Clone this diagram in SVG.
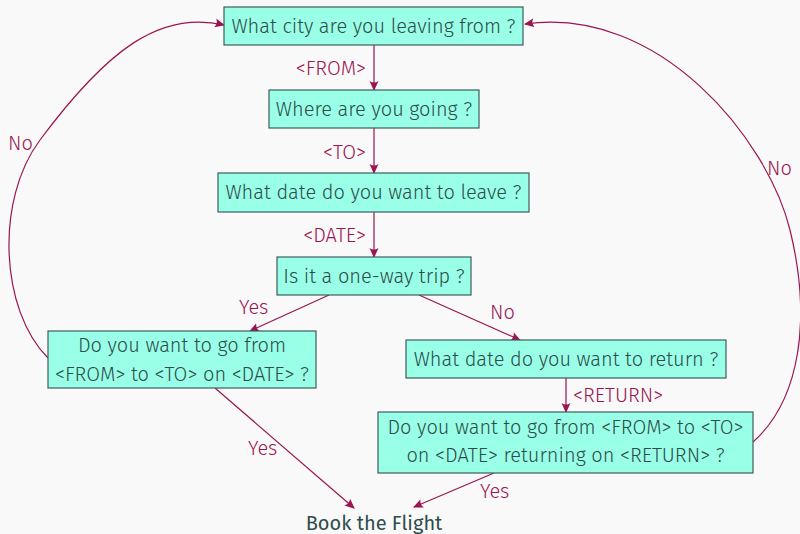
<svg xmlns="http://www.w3.org/2000/svg" width="800" height="534" viewBox="0 0 800 534">
<defs>
<style>
.bg{fill:#f9f9fa}
.box{fill:#99ffe6;stroke:#3e5c5c;stroke-width:1.2}
.t{font-family:"Fira Sans","Open Sans","Noto Sans",sans-serif;font-size:20px;font-weight:300;fill:#2e4c4c;text-anchor:middle}
.e{fill:none;stroke:#9b1551;stroke-width:1.2;marker-end:url(#ah)}
.l{font-family:"Fira Sans","Open Sans","Noto Sans",sans-serif;font-size:20px;font-weight:300;fill:#9b1551}
</style>
<marker id="ah" viewBox="0 0 10 10" refX="9" refY="5" markerWidth="10" markerHeight="10" markerUnits="userSpaceOnUse" orient="auto">
<path d="M0,0.5 L10,5 L0,9.5 Q3,5 0,0.5 Z" fill="#9b1551"/>
</marker>
</defs>
<rect class="bg" width="800" height="534"/>
<g id="connectors">
<path class="e" d="M374,45 L374,90"/>
<path class="e" d="M374,128 L374,173"/>
<path class="e" d="M374,212 L374,257"/>
<path class="e" d="M329,295 L250,331"/>
<path class="e" d="M419,295 L520,340"/>
<path class="e" d="M566,378 L566,412"/>
<path class="e" d="M215,388 L354,508"/>
<path class="e" d="M494,473 L414,507"/>
<path class="e" d="M48,358 C0,310 -5,200 40,140 C107,50 160,10 224,25"/>
<path class="e" d="M753,442 C800,400 812,320 790,230 C768,140 660,5 525,24"/>
<text class="l" x="366" y="75" text-anchor="end">&lt;FROM&gt;</text>
<text class="l" x="366" y="159" text-anchor="end">&lt;TO&gt;</text>
<text class="l" x="366" y="242" text-anchor="end">&lt;DATE&gt;</text>
<text class="l" x="239" y="314">Yes</text>
<text class="l" x="490" y="319">No</text>
<text class="l" x="573" y="402">&lt;RETURN&gt;</text>
<text class="l" x="248" y="455">Yes</text>
<text class="l" x="480" y="498">Yes</text>
<text class="l" x="8" y="150">No</text>
<text class="l" x="767" y="175">No</text>
</g>
<g id="n1"><rect class="box" x="224" y="7" width="299" height="38"/><text class="t" x="373.5" y="33">What city are you leaving from ?</text></g>
<g id="n2"><rect class="box" x="269" y="90" width="210" height="38"/><text class="t" x="374" y="116">Where are you going ?</text></g>
<g id="n3"><rect class="box" x="218" y="173" width="311" height="39"/><text class="t" x="373.5" y="199">What date do you want to leave ?</text></g>
<g id="n4"><rect class="box" x="277" y="257" width="194" height="38"/><text class="t" x="374" y="283">Is it a one-way trip ?</text></g>
<g id="n5"><rect class="box" x="48" y="331" width="268" height="57"/><text class="t" x="182" y="352">Do you want to go from</text><text class="t" x="182" y="381">&lt;FROM&gt; to &lt;TO&gt; on &lt;DATE&gt; ?</text></g>
<g id="n6"><rect class="box" x="406" y="340" width="320" height="38"/><text class="t" x="566" y="366">What date do you want to return ?</text></g>
<g id="n7"><rect class="box" x="378" y="412" width="375" height="61"/><text class="t" x="565.5" y="434">Do you want to go from &lt;FROM&gt; to &lt;TO&gt;</text><text class="t" x="565.5" y="462">on &lt;DATE&gt; returning on &lt;RETURN&gt; ?</text></g>
<g id="n8"><text class="t" x="374" y="530" style="font-weight:400">Book the Flight</text></g>
</svg>
